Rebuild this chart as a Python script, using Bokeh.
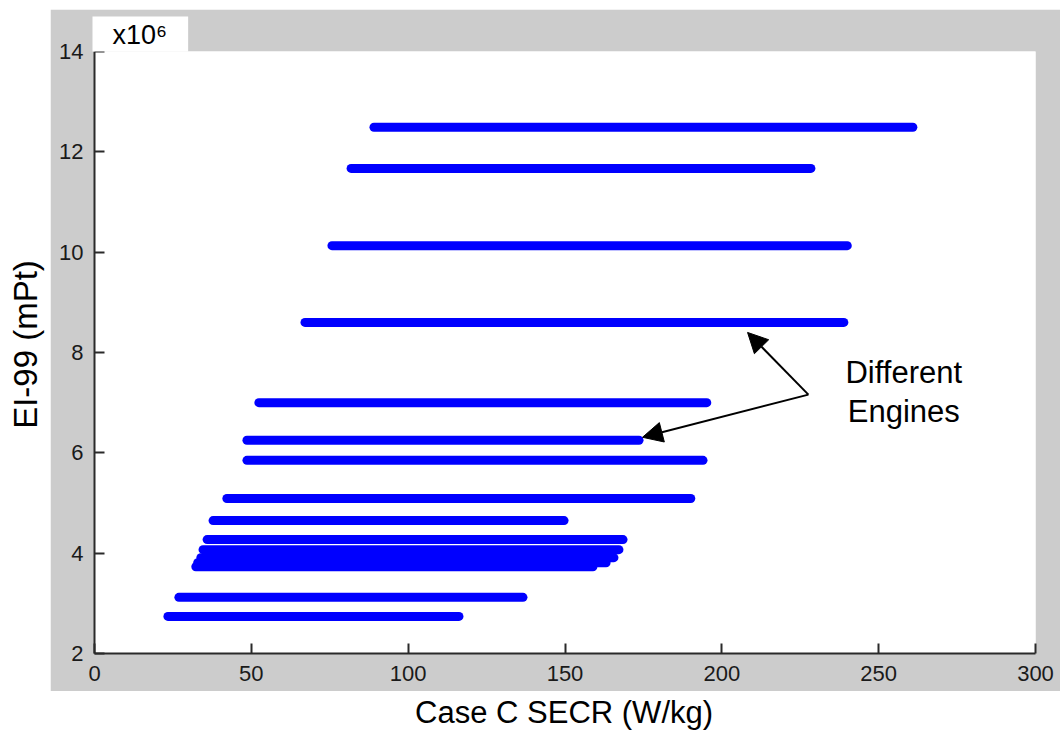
import math
from bokeh.plotting import figure
from bokeh.layouts import row, column
from bokeh.models import (Range1d, Label, Arrow, NormalHead, FixedTicker,
                          ColumnDataSource, Spacer)
from bokeh.embed import file_html
from bokeh.resources import INLINE

# Case C SECR range (W/kg) covered by each engine, and its EI-99 score (x10^6 mPt)
secr_min = [89.1, 81.8, 75.7, 67.1, 52.4, 48.6, 48.6, 42.2, 37.8, 35.9,
            34.6, 33.9, 32.9, 32.3, 26.9, 23.4]
secr_max = [260.9, 228.4, 240.0, 238.9, 195.2, 173.6, 194.0, 190.1, 149.7, 168.5,
            167.2, 165.6, 163.1, 158.9, 136.6, 116.2]
ei99 = [12.49, 11.67, 10.13, 8.60, 7.00, 6.25, 5.85, 5.09, 4.65, 4.27,
        4.07, 3.91, 3.81, 3.73, 3.12, 2.74]

x_ticks = [0, 50, 100, 150, 200, 250, 300]
y_ticks = [2, 4, 6, 8, 10, 12, 14]

x_title = "Case C SECR (W/kg)"
y_title = "EI-99 (mPt)"
exponent = "x10\u2076"

FONT = "Liberation Sans"
GRAY = "#cccccc"

# ---------------- main plot (gray figure area) ----------------
p = figure(width=1010, height=682, output_backend="svg", toolbar_location=None,
           x_range=Range1d(0, 300), y_range=Range1d(2, 14),
           min_border_left=44, min_border_right=25, min_border_top=42,
           min_border_bottom=38, border_fill_color=GRAY,
           background_fill_color="white", outline_line_color=None,
           title=exponent)
p.grid.visible = False

t = p.title
t.align = "left"
t.offset = -2
t.standoff = 0
t.text_font = FONT
t.text_font_size = "27px"
t.text_font_style = "normal"
t.text_color = "black"
t.background_fill_color = "white"
t.padding = dict(left=20, right=21, top=3, bottom=2)

src = ColumnDataSource(dict(x0=secr_min, x1=secr_max, y=ei99))
p.segment(x0="x0", y0="y", x1="x1", y1="y", source=src,
          line_width=9, line_color="#0000ff", line_cap="round")

for ax in (p.xaxis[0], p.yaxis[0]):
    ax.axis_line_color = "#2a2a2a"
    ax.axis_line_width = 2
    ax.major_tick_line_color = "#2a2a2a"
    ax.major_tick_line_width = 2
    ax.major_tick_in = 10
    ax.major_tick_out = 0
    ax.minor_tick_line_color = None
    ax.major_label_text_font = FONT
    ax.major_label_text_font_size = "22px"
    ax.major_label_text_color = "#1a1a1a"

p.xaxis[0].ticker = FixedTicker(ticks=x_ticks)
p.yaxis[0].ticker = FixedTicker(ticks=y_ticks)
p.xaxis[0].major_label_standoff = 12
p.yaxis[0].major_label_standoff = 11

# annotation
p.add_layout(Arrow(x_start=227.6, y_start=7.16, x_end=208.2, y_end=8.40,
                   line_width=2, line_color="black",
                   end=NormalHead(size=20, fill_color="black", line_color="black")))
p.add_layout(Arrow(x_start=227.6, y_start=7.16, x_end=174.7, y_end=6.31,
                   line_width=2, line_color="black",
                   end=NormalHead(size=20, fill_color="black", line_color="black")))
p.add_layout(Label(x=258.0, y=7.60, text="Different", text_align="center",
                   text_baseline="alphabetic", text_font=FONT,
                   text_font_size="31px", text_color="black"))
p.add_layout(Label(x=258.0, y=6.83, text="Engines", text_align="center",
                   text_baseline="alphabetic", text_font=FONT,
                   text_font_size="31px", text_color="black"))

# ---------------- y-axis title strip ----------------
yfig = figure(width=50, height=734, output_backend="svg", toolbar_location=None,
              x_range=Range1d(0, 50), y_range=Range1d(734, 0),
              x_axis_type=None, y_axis_type=None, min_border=0,
              border_fill_color="white", background_fill_color="white",
              outline_line_color=None)
yfig.grid.visible = False
yfig.add_layout(Label(x=25, y=344, text=y_title, angle=math.pi / 2,
                      text_align="center", text_baseline="middle",
                      text_font=FONT, text_font_size="33px", text_color="black"))

# ---------------- x-axis title strip ----------------
xfig = figure(width=1010, height=43, output_backend="svg", toolbar_location=None,
              x_range=Range1d(0, 1010), y_range=Range1d(43, 0),
              x_axis_type=None, y_axis_type=None, min_border=0,
              border_fill_color="white", background_fill_color="white",
              outline_line_color=None)
xfig.grid.visible = False
xfig.add_layout(Label(x=504, y=20.5, text=x_title, text_align="center",
                      text_baseline="alphabetic", text_font=FONT,
                      text_font_size="31px", text_color="black"))

layout = row(yfig, column(Spacer(width=1010, height=9), p, xfig, spacing=0),
             spacing=0)

open("out.html", "w").write(file_html(layout, INLINE))
